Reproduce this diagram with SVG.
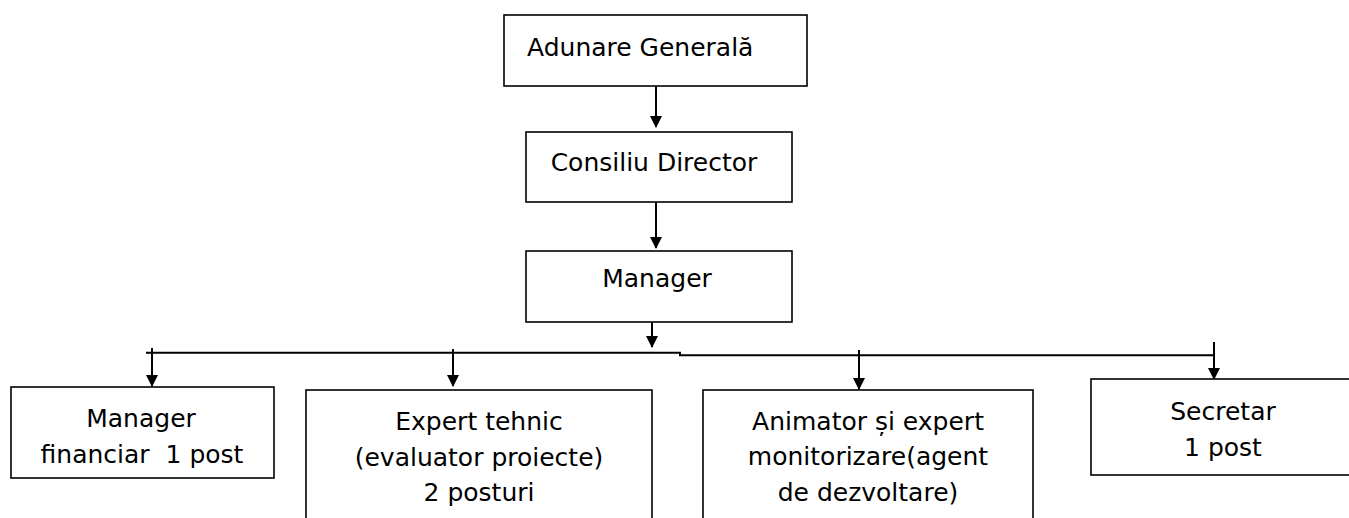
<svg xmlns="http://www.w3.org/2000/svg" width="1349" height="518" viewBox="0 0 1349 518">
<defs>
<style>
.box{fill:#fff;stroke:#000;stroke-width:1.6}
.t{font-family:"DejaVu Sans",Verdana,sans-serif;font-size:25px;fill:#000;text-anchor:middle;white-space:pre}
.ln{fill:none;stroke:#000;stroke-width:2}
.arr{fill:none;stroke:#000;stroke-width:2;marker-end:url(#ah)}
</style>
<marker id="ah" viewBox="0 0 12 12" refX="11" refY="6" markerWidth="12" markerHeight="12" markerUnits="userSpaceOnUse" orient="auto">
<path d="M0,0 L12,6 L0,12 Z" fill="#000"/>
</marker>
</defs>
<rect width="1349" height="518" fill="#fff"/>
<g id="connectors">
<line class="arr" x1="656" y1="86" x2="656" y2="127"/>
<line class="arr" x1="656" y1="202" x2="656" y2="248"/>
<line class="arr" x1="652" y1="322" x2="652" y2="347"/>
<polyline class="ln" points="146,352.7 680,352.7 680,355.3 1215,355.3"/>
<line class="arr" x1="152" y1="348" x2="152" y2="386"/>
<line class="arr" x1="453" y1="349" x2="453" y2="386"/>
<line class="arr" x1="859" y1="350" x2="859" y2="389"/>
<line class="arr" x1="1214" y1="342" x2="1214" y2="379"/>
</g>
<g id="adunare">
<rect class="box" x="504" y="15" width="303" height="71"/>
<text class="t" x="527" y="56" style="text-anchor:start">Adunare Generală</text>
</g>
<g id="consiliu">
<rect class="box" x="526" y="132" width="266" height="70"/>
<text class="t" x="654" y="171">Consiliu Director</text>
</g>
<g id="manager">
<rect class="box" x="526" y="251" width="266" height="71"/>
<text class="t" x="657" y="287">Manager</text>
</g>
<g id="manager-financiar">
<rect class="box" x="11" y="387" width="263" height="91"/>
<text class="t" x="141" y="427">Manager</text>
<text class="t" x="142" y="463" xml:space="preserve">financiar  1 post</text>
</g>
<g id="expert-tehnic">
<rect class="box" x="306" y="390" width="346" height="140"/>
<text class="t" x="479" y="430">Expert tehnic</text>
<text class="t" x="479" y="466">(evaluator proiecte)</text>
<text class="t" x="479" y="501">2 posturi</text>
</g>
<g id="animator">
<rect class="box" x="703" y="390" width="330" height="140"/>
<text class="t" x="868" y="430">Animator și expert</text>
<text class="t" x="868" y="465">monitorizare(agent</text>
<text class="t" x="868" y="501">de dezvoltare)</text>
</g>
<g id="secretar">
<rect class="box" x="1091" y="379" width="270" height="96"/>
<text class="t" x="1223" y="420">Secretar</text>
<text class="t" x="1223" y="456">1 post</text>
</g>
</svg>
